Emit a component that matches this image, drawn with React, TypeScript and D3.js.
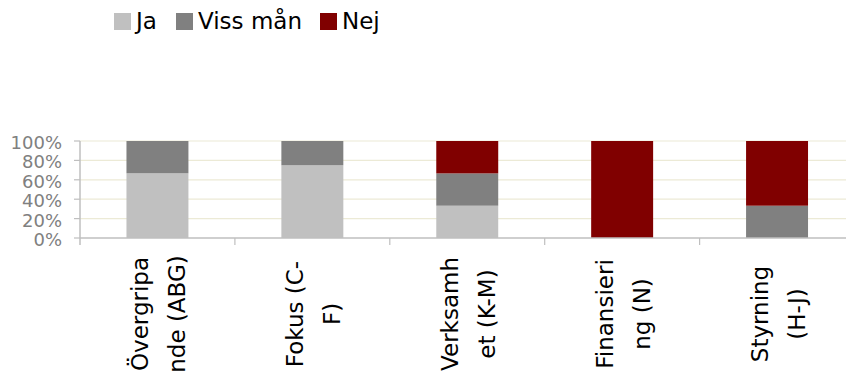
import React from 'react'
import { scaleBand, scaleLinear, stack } from 'd3'

const categories = ['Övergripande (ABG)', 'Fokus (C-F)', 'Verksamhet (K-M)', 'Finansiering (N)', 'Styrning (H-J)']
const categoryLines = [
  ['Övergripa', 'nde (ABG)'],
  ['Fokus (C-', 'F)'],
  ['Verksamh', 'et (K-M)'],
  ['Finansieri', 'ng (N)'],
  ['Styrning', '(H-J)'],
]
const seriesNames = ['Ja', 'Viss mån', 'Nej']
const seriesColors = ['#C0C0C0', '#808080', '#800000']
const ja = [66.7, 75, 33.3, 0, 0]
const vissMan = [33.3, 25, 33.3, 0, 33.3]
const nej = [0, 0, 33.4, 100, 66.7]
const yTicks = [0, 20, 40, 60, 80, 100]

const W = 846
const H = 382
const FONT = '"DejaVu Sans", Verdana, sans-serif'

export default function App(): JSX.Element {
  const left = 80
  const right = 854.5
  const top = 141
  const bottom = 238

  const x = scaleBand<string>().domain(categories).range([left, right]).paddingInner(0.6).paddingOuter(0.3)
  const y = scaleLinear().domain([0, 100]).range([bottom, top])
  const step = x.step()
  const gap = (step - x.bandwidth()) / 2

  const rows = categories.map((c, i) => ({ cat: c, Ja: ja[i], 'Viss mån': vissMan[i], Nej: nej[i] }))
  const layers = stack<any>().keys(seriesNames)(rows)

  // legend positions
  const legendX = [114, 176, 320]

  return (
    <svg
      width={W}
      height={H}
      style={{ position: 'absolute', left: 0, top: 0 }}
      xmlns="http://www.w3.org/2000/svg"
    >
      <rect width={W} height={H} fill="#ffffff" />

      {/* gridlines */}
      {yTicks.filter((t) => t > 0).map((t) => (
        <line key={t} x1={left} x2={right} y1={y(t)} y2={y(t)} stroke="#ECEAD6" strokeWidth={1.2} />
      ))}

      {/* bars */}
      {layers.map((layer, li) => (
        <g key={layer.key} fill={seriesColors[li]}>
          {layer.map((d, i) =>
            d[1] - d[0] > 0 ? (
              <rect
                key={i}
                x={x(categories[i])}
                width={x.bandwidth()}
                y={y(d[1])}
                height={y(d[0]) - y(d[1])}
              />
            ) : null,
          )}
        </g>
      ))}

      {/* axes */}
      <line x1={left} x2={left} y1={top} y2={bottom + 7} stroke="#BFBFBF" strokeWidth={1.5} />
      <line x1={left} x2={right} y1={bottom} y2={bottom} stroke="#BFBFBF" strokeWidth={1.5} />
      {yTicks.map((t) => (
        <line key={t} x1={left - 6} x2={left} y1={y(t)} y2={y(t)} stroke="#BFBFBF" strokeWidth={1.2} />
      ))}
      {categories.map((c, i) =>
        i > 0 ? (
          <line
            key={c}
            x1={(x(c) as number) - gap}
            x2={(x(c) as number) - gap}
            y1={bottom}
            y2={bottom + 7}
            stroke="#BFBFBF"
            strokeWidth={1.2}
          />
        ) : null,
      )}

      {/* y labels */}
      {yTicks.map((t) => (
        <text
          key={t}
          x={62}
          y={y(t) + 1.5}
          textAnchor="end"
          dominantBaseline="central"
          fontFamily={FONT}
          fontSize={18}
          fill="#808080"
        >
          {t}%
        </text>
      ))}

      {/* category labels */}
      {categories.map((c, i) => {
        const cx = (x(c) as number) + x.bandwidth() / 2
        return (
          <g key={c} transform={`translate(${cx},314) rotate(-90)`}>
            {categoryLines[i].map((ln, k) => (
              <text
                key={k}
                x={0}
                y={-9 + k * 37}
                textAnchor="middle"
                fontFamily={FONT}
                fontSize={23}
                fill="#000000"
              >
                {ln}
              </text>
            ))}
          </g>
        )
      })}

      {/* legend */}
      {seriesNames.map((s, i) => (
        <g key={s}>
          <rect x={legendX[i]} y={13} width={17} height={17} fill={seriesColors[i]} />
          <text x={legendX[i] + 22} y={29} fontFamily={FONT} fontSize={23} fill="#000000">
            {s}
          </text>
        </g>
      ))}
    </svg>
  )
}
